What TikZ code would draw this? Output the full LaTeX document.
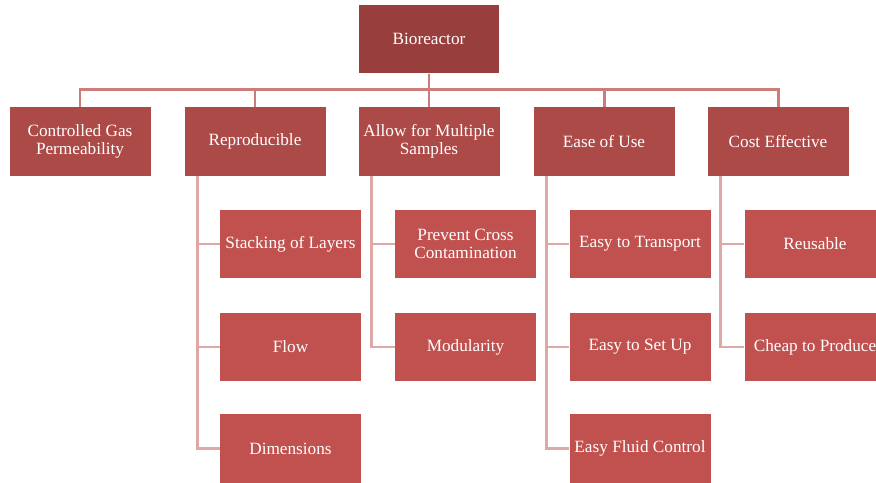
\documentclass[tikz,border=0pt]{standalone}
\usepackage{fontspec}
\setmainfont{Liberation Serif}
\usepackage{xcolor}
\usepackage{tikz}

\definecolor{rootred}{RGB}{152,62,61}
\definecolor{mainred}{RGB}{172,74,71}
\definecolor{subred}{RGB}{192,81,78}
\definecolor{busline}{RGB}{206,124,121}
\definecolor{subline}{RGB}{222,168,167}

\begin{document}
\begin{tikzpicture}[
    box/.style={minimum width=2.82cm,minimum height=1.37cm,inner sep=0pt,
      text=white,align=center,font=\fontsize{9.8}{10.2}\selectfont},
    rootbox/.style={box,fill=rootred,minimum width=2.8cm},
    mainbox/.style={box,fill=mainred},
    subbox/.style={box,fill=subred},
    bus/.style={busline,line width=1.7pt},
    sub/.style={subline,line width=1.7pt}
  ]

  \useasboundingbox (0,0) rectangle (17.52,-9.64);
  \clip (0,0) rectangle (17.52,-9.64);

  \node[rootbox] (bio) at (8.58,-0.78) {Bioreactor};

  \node[mainbox] (gas)  at (1.60,-2.83)  {Controlled Gas\\Permeability};
  \node[mainbox] (rep)  at (5.10,-2.83)  {Reproducible};
  \node[mainbox] (mult) at (8.58,-2.83)  {Allow for Multiple\\Samples};
  \node[mainbox] (ease) at (12.08,-2.83) {Ease of Use};
  \node[mainbox] (cost) at (15.56,-2.83) {Cost Effective};

  \node[subbox] (stack) at (5.81,-4.88) {Stacking of Layers};
  \node[subbox] (flow)  at (5.81,-6.94) {Flow};
  \node[subbox] (dims)  at (5.81,-8.97) {Dimensions};

  \node[subbox] (cross) at (9.31,-4.88) {Prevent Cross\\Contamination};
  \node[subbox] (modu)  at (9.31,-6.94) {Modularity};

  \node[subbox] (trans) at (12.80,-4.88) {Easy to Transport};
  \node[subbox] (setup) at (12.80,-6.94) {Easy to Set Up};
  \node[subbox] (fluid) at (12.80,-8.97) {Easy Fluid Control};

  \node[subbox] (reuse) at (16.30,-4.88) {Reusable};
  \node[subbox] (cheap) at (16.30,-6.94) {Cheap to Produce};

  \foreach \n in {gas,rep,mult,ease,cost}
    \draw[bus] (bio.south) -- ++(0,-0.32) -| (\n.north);

  \foreach \p/\c in {rep/stack,rep/flow,rep/dims,mult/cross,mult/modu,
                     ease/trans,ease/setup,ease/fluid,cost/reuse,cost/cheap}
    \draw[sub] ([xshift=0.27cm]\p.south west) |- (\c.west);

\end{tikzpicture}
\end{document}
